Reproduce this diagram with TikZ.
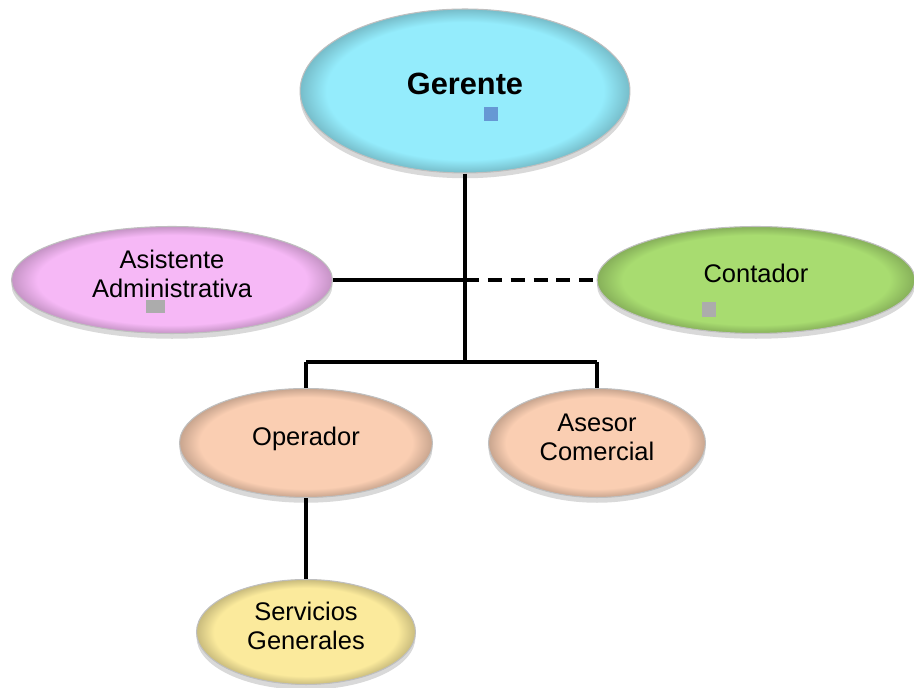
\documentclass[tikz,border=0pt]{standalone}
\usepackage{fontspec}
\setmainfont{Liberation Sans}
\usetikzlibrary{shapes.geometric,shadows}

\definecolor{gercol}{RGB}{148,236,252}
\definecolor{asicol}{RGB}{246,184,246}
\definecolor{concol}{RGB}{168,220,112}
\definecolor{opecol}{RGB}{250,206,178}
\definecolor{sercol}{RGB}{251,234,156}
\definecolor{sqblue}{RGB}{102,152,212}
\definecolor{sqgray}{RGB}{172,172,172}
\colorlet{bevcol}{gercol}
\pgfdeclareradialshading[bevcol]{bevel}{\pgfpoint{0bp}{0bp}}{color(0bp)=(bevcol);
  color(21bp)=(bevcol); color(25bp)=(bevcol!80!black); color(50bp)=(bevcol!80!black)}
\newcommand{\etiq}[1]{\raisebox{1.5pt}[\height][\depth]{\begin{tabular}{@{}c@{}}#1\end{tabular}}}

\begin{document}
\begin{tikzpicture}[x=0.02cm,y=-0.02cm]
\tikzstyle{every node}=[ellipse, inner sep=0pt, font=\fontsize{14.5}{16}\selectfont]
\tikzstyle{cargo}=[draw=black!25, line width=0.6pt, shade, drop shadow={opacity=0.3, shadow xshift=0pt, shadow yshift=-3pt}]
\tikzstyle{tinte}=[/utils/exec={\colorlet{bevcol}{#1}}, shading=bevel]
\tikzstyle{linea}=[line width=2pt]
\useasboundingbox (0,0) rectangle (914,688);
\draw (465,91) node (ger) [cargo, tinte=gercol, minimum width=6.6cm, minimum height=3.28cm] {\etiq{\fontsize{17.5}{19}\selectfont\bfseries Gerente}};
\draw (172,280) node (asis) [cargo, tinte=asicol, minimum width=6.42cm, minimum height=2.14cm] {\etiq{Asistente\\Administrativa}};
\draw (756,280) node (cont) [cargo, tinte=concol, minimum width=6.36cm, minimum height=2.14cm] {\etiq{Contador}};
\draw (306,443) node (oper) [cargo, tinte=opecol, minimum width=5.06cm, minimum height=2.18cm] {\etiq{Operador}};
\draw (597,443) node (ases) [cargo, tinte=opecol, minimum width=4.34cm, minimum height=2.18cm] {\etiq{Asesor\\Comercial}};
\draw (306,632) node (serv) [cargo, tinte=sercol, minimum width=4.38cm, minimum height=2.1cm] {\etiq{Servicios\\Generales}};
\coordinate (j1) at (465,280);
\coordinate (j2) at (465,362);
\coordinate (jl) at (306,362);
\coordinate (jr) at (597,362);
\draw[linea] (ger) -- (j2);
\draw[linea] (asis) -- (j1);
\draw[linea, dash pattern=on 8pt off 5pt] (j1) -- (cont);
\draw[linea] (jl) -- (jr);
\draw[linea] (jl) -- (oper);
\draw[linea] (jr) -- (ases);
\draw[linea] (oper) -- (serv);
\fill[sqblue] (484,107) rectangle (498,121);
\fill[sqgray] (146,300) rectangle (165,313);
\fill[sqgray] (702,302) rectangle (716,317);
\end{tikzpicture}
\end{document}
